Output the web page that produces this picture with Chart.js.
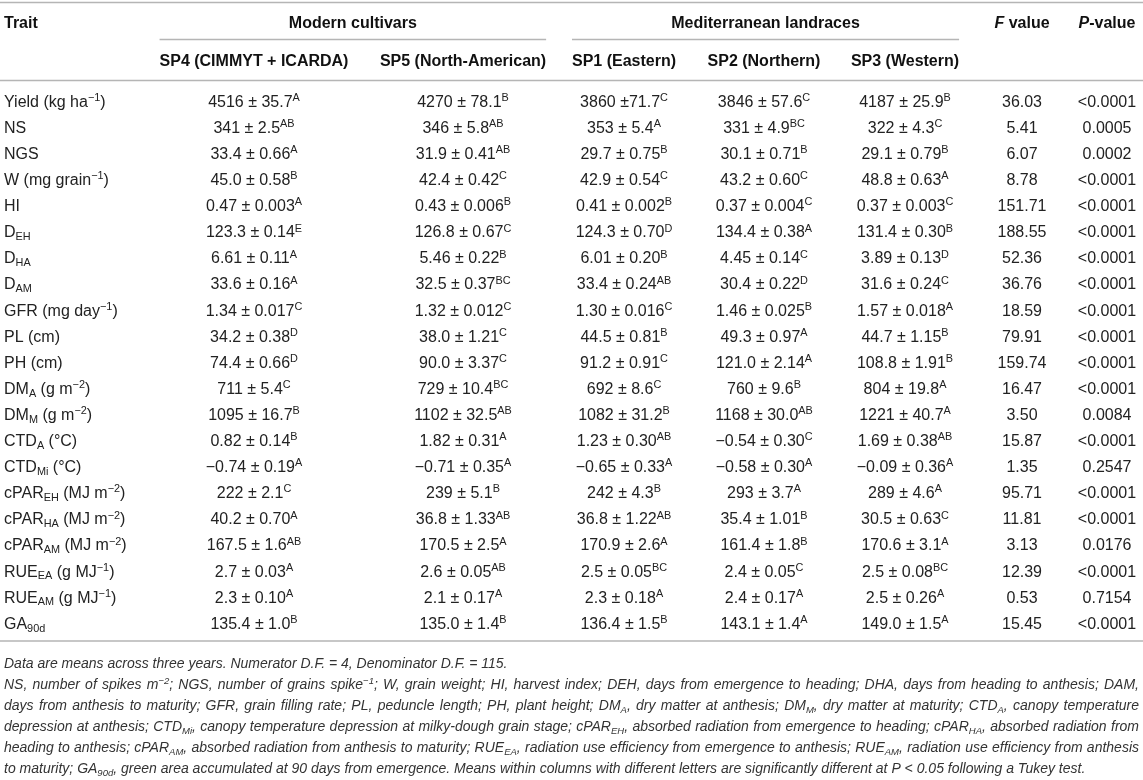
<!DOCTYPE html>
<html>
<head>
<meta charset="utf-8">
<title>Trait means by subpopulation</title>
<script src="https://cdn.jsdelivr.net/npm/chart.js@4.4.0/dist/chart.umd.min.js"></script>
<style>
    html, body { margin: 0; padding: 0; background: #fff; }
    #wrap { width: 1143px; height: 780px; position: relative; }
</style>
</head>
<body>
<div id="wrap"><canvas id="table-chart"></canvas></div>
<script>
/**
 * Table of trait means (± SE) per subpopulation, drawn on a Chart.js canvas.
 * Rows come from a category y axis, columns from a linear x axis.
 * Markup in strings: ^{..} superscript, _{..} subscript, *..* italic.
 */

// Row labels (traits)
const traits = [
    'Yield (kg ha^{\u22121})', 'NS', 'NGS', 'W (mg grain^{\u22121})', 'HI',
    'D_{EH}', 'D_{HA}', 'D_{AM}', 'GFR (mg day^{\u22121})', 'PL (cm)', 'PH (cm)',
    'DM_{A} (g m^{\u22122})', 'DM_{M} (g m^{\u22122})', 'CTD_{A} (\u00B0C)', 'CTD_{Mi} (\u00B0C)',
    'cPAR_{EH} (MJ m^{\u22122})', 'cPAR_{HA} (MJ m^{\u22122})', 'cPAR_{AM} (MJ m^{\u22122})',
    'RUE_{EA} (g MJ^{\u22121})', 'RUE_{AM} (g MJ^{\u22121})', 'GA_{90d}'
];

// Modern cultivars
const sp4 = [
    '4516 \u00B1 35.7^{A}', '341 \u00B1 2.5^{AB}', '33.4 \u00B1 0.66^{A}', '45.0 \u00B1 0.58^{B}',
    '0.47 \u00B1 0.003^{A}', '123.3 \u00B1 0.14^{E}', '6.61 \u00B1 0.11^{A}', '33.6 \u00B1 0.16^{A}',
    '1.34 \u00B1 0.017^{C}', '34.2 \u00B1 0.38^{D}', '74.4 \u00B1 0.66^{D}', '711 \u00B1 5.4^{C}',
    '1095 \u00B1 16.7^{B}', '0.82 \u00B1 0.14^{B}', '\u22120.74 \u00B1 0.19^{A}', '222 \u00B1 2.1^{C}',
    '40.2 \u00B1 0.70^{A}', '167.5 \u00B1 1.6^{AB}', '2.7 \u00B1 0.03^{A}', '2.3 \u00B1 0.10^{A}',
    '135.4 \u00B1 1.0^{B}'
];
const sp5 = [
    '4270 \u00B1 78.1^{B}', '346 \u00B1 5.8^{AB}', '31.9 \u00B1 0.41^{AB}', '42.4 \u00B1 0.42^{C}',
    '0.43 \u00B1 0.006^{B}', '126.8 \u00B1 0.67^{C}', '5.46 \u00B1 0.22^{B}', '32.5 \u00B1 0.37^{BC}',
    '1.32 \u00B1 0.012^{C}', '38.0 \u00B1 1.21^{C}', '90.0 \u00B1 3.37^{C}', '729 \u00B1 10.4^{BC}',
    '1102 \u00B1 32.5^{AB}', '1.82 \u00B1 0.31^{A}', '\u22120.71 \u00B1 0.35^{A}', '239 \u00B1 5.1^{B}',
    '36.8 \u00B1 1.33^{AB}', '170.5 \u00B1 2.5^{A}', '2.6 \u00B1 0.05^{AB}', '2.1 \u00B1 0.17^{A}',
    '135.0 \u00B1 1.4^{B}'
];

// Mediterranean landraces
const sp1 = [
    '3860 \u00B171.7^{C}', '353 \u00B1 5.4^{A}', '29.7 \u00B1 0.75^{B}', '42.9 \u00B1 0.54^{C}',
    '0.41 \u00B1 0.002^{B}', '124.3 \u00B1 0.70^{D}', '6.01 \u00B1 0.20^{B}', '33.4 \u00B1 0.24^{AB}',
    '1.30 \u00B1 0.016^{C}', '44.5 \u00B1 0.81^{B}', '91.2 \u00B1 0.91^{C}', '692 \u00B1 8.6^{C}',
    '1082 \u00B1 31.2^{B}', '1.23 \u00B1 0.30^{AB}', '\u22120.65 \u00B1 0.33^{A}', '242 \u00B1 4.3^{B}',
    '36.8 \u00B1 1.22^{AB}', '170.9 \u00B1 2.6^{A}', '2.5 \u00B1 0.05^{BC}', '2.3 \u00B1 0.18^{A}',
    '136.4 \u00B1 1.5^{B}'
];
const sp2 = [
    '3846 \u00B1 57.6^{C}', '331 \u00B1 4.9^{BC}', '30.1 \u00B1 0.71^{B}', '43.2 \u00B1 0.60^{C}',
    '0.37 \u00B1 0.004^{C}', '134.4 \u00B1 0.38^{A}', '4.45 \u00B1 0.14^{C}', '30.4 \u00B1 0.22^{D}',
    '1.46 \u00B1 0.025^{B}', '49.3 \u00B1 0.97^{A}', '121.0 \u00B1 2.14^{A}', '760 \u00B1 9.6^{B}',
    '1168 \u00B1 30.0^{AB}', '\u22120.54 \u00B1 0.30^{C}', '\u22120.58 \u00B1 0.30^{A}', '293 \u00B1 3.7^{A}',
    '35.4 \u00B1 1.01^{B}', '161.4 \u00B1 1.8^{B}', '2.4 \u00B1 0.05^{C}', '2.4 \u00B1 0.17^{A}',
    '143.1 \u00B1 1.4^{A}'
];
const sp3 = [
    '4187 \u00B1 25.9^{B}', '322 \u00B1 4.3^{C}', '29.1 \u00B1 0.79^{B}', '48.8 \u00B1 0.63^{A}',
    '0.37 \u00B1 0.003^{C}', '131.4 \u00B1 0.30^{B}', '3.89 \u00B1 0.13^{D}', '31.6 \u00B1 0.24^{C}',
    '1.57 \u00B1 0.018^{A}', '44.7 \u00B1 1.15^{B}', '108.8 \u00B1 1.91^{B}', '804 \u00B1 19.8^{A}',
    '1221 \u00B1 40.7^{A}', '1.69 \u00B1 0.38^{AB}', '\u22120.09 \u00B1 0.36^{A}', '289 \u00B1 4.6^{A}',
    '30.5 \u00B1 0.63^{C}', '170.6 \u00B1 3.1^{A}', '2.5 \u00B1 0.08^{BC}', '2.5 \u00B1 0.26^{A}',
    '149.0 \u00B1 1.5^{A}'
];

// ANOVA
const fValues = [36.03, 5.41, 6.07, 8.78, 151.71, 188.55, 52.36, 36.76, 18.59, 79.91, 159.74,
    16.47, 3.50, 15.87, 1.35, 95.71, 11.81, 3.13, 12.39, 0.53, 15.45];
const pValues = ['<0.0001', '0.0005', '0.0002', '<0.0001', '<0.0001', '<0.0001', '<0.0001',
    '<0.0001', '<0.0001', '<0.0001', '<0.0001', '<0.0001', '0.0084', '<0.0001', '0.2547',
    '<0.0001', '<0.0001', '0.0176', '<0.0001', '0.7154', '<0.0001'];

// Header labels
const columnHeaders = ['Trait', 'SP4 (CIMMYT + ICARDA)', 'SP5 (North-American)',
    'SP1 (Eastern)', 'SP2 (Northern)', 'SP3 (Western)', '*F* value', '*P*-value'];
const groupHeaders = ['Modern cultivars', 'Mediterranean landraces'];

const footnoteLines = [
    'Data are means across three years. Numerator D.F. = 4, Denominator D.F. = 115.',
    'NS, number of spikes m^{\u22122}; NGS, number of grains spike^{\u22121}; W, grain weight; HI, harvest index; DEH, days from emergence to heading; DHA, days from heading to anthesis; DAM,',
    'days from anthesis to maturity; GFR, grain filling rate; PL, peduncle length; PH, plant height; DM_{A}, dry matter at anthesis; DM_{M}, dry matter at maturity; CTD_{A}, canopy temperature',
    'depression at anthesis; CTD_{Mi}, canopy temperature depression at milky-dough grain stage; cPAR_{EH}, absorbed radiation from emergence to heading; cPAR_{HA}, absorbed radiation from',
    'heading to anthesis; cPAR_{AM}, absorbed radiation from anthesis to maturity; RUE_{EA}, radiation use efficiency from emergence to anthesis; RUE_{AM}, radiation use efficiency from anthesis',
    'to maturity; GA_{90d}, green area accumulated at 90 days from emergence. Means within columns with different letters are significantly different at P < 0.05 following a Tukey test.'
];

// Layout (x axis units = canvas px, 0..1143)
const TABLE_WIDTH = 1143;
const colX = [4, 254, 463, 624, 764, 905, 1022, 1107];
const FONT = '"Liberation Sans", Arial, Helvetica, sans-serif';
const BODY_SIZE = 16;
const NOTE_SIZE = 14;
const TEXT_COLOR = '#222';
const RULE_COLOR = '#b5b5b5';

function parseRich(str) {
    const parts = [];
    const re = /([\^_])\{([^}]*)\}|\*([^*]+)\*/g;
    let last = 0;
    let m;
    while ((m = re.exec(str)) !== null) {
        if (m.index > last) parts.push({ text: str.slice(last, m.index), mode: 'base' });
        if (m[3] !== undefined) parts.push({ text: m[3], mode: 'base', italic: true });
        else parts.push({ text: m[2], mode: m[1] === '^' ? 'sup' : 'sub' });
        last = re.lastIndex;
    }
    if (last < str.length) parts.push({ text: str.slice(last), mode: 'base' });
    return parts;
}

function partFont(part, o) {
    const size = part.mode === 'base' ? o.size : o.size * 0.68;
    const italic = (o.italic || part.italic) ? 'italic ' : '';
    return italic + (o.weight || 'normal') + ' ' + size + 'px ' + FONT;
}

function measureRich(ctx, str, o) {
    let w = 0;
    parseRich(str).forEach(p => {
        ctx.font = partFont(p, o);
        w += ctx.measureText(p.text).width;
    });
    return w;
}

/**
 * Draw a marked-up string centred vertically on y.
 * Returns the left and right pixel of the drawn text.
 */
function drawRich(ctx, str, x, y, o) {
    const parts = parseRich(str);
    const natural = measureRich(ctx, str, o);
    let extra = 0;
    if (o.justify) {
        let spaces = 0;
        parts.forEach(p => { if (p.mode === 'base') spaces += (p.text.match(/ /g) || []).length; });
        if (spaces) extra = (o.justify - natural) / spaces;
    }
    const width = o.justify || natural;
    let cx = o.align === 'left' ? x : o.align === 'right' ? x - width : x - width / 2;
    const left = cx;
    const base = y + o.size * 0.36;
    ctx.fillStyle = o.color || TEXT_COLOR;
    ctx.textBaseline = 'alphabetic';
    ctx.textAlign = 'left';
    parts.forEach(p => {
        ctx.font = partFont(p, o);
        let by = base;
        if (p.mode === 'sup') by = base - o.size * 0.36;
        if (p.mode === 'sub') by = base + o.size * 0.18;
        if (extra && p.mode === 'base') {
            const words = p.text.split(' ');
            const sp = ctx.measureText(' ').width;
            words.forEach((wd, j) => {
                ctx.fillText(wd, cx, by);
                cx += ctx.measureText(wd).width;
                if (j < words.length - 1) cx += sp + extra;
            });
        } else {
            ctx.fillText(p.text, cx, by);
            cx += ctx.measureText(p.text).width;
        }
    });
    return { left: left, right: cx };
}

function rule(ctx, x0, x1, y, width) {
    ctx.beginPath();
    ctx.strokeStyle = RULE_COLOR;
    ctx.lineWidth = width || 1.5;
    ctx.moveTo(x0, y);
    ctx.lineTo(x1, y);
    ctx.stroke();
}

const tableTextPlugin = {
    id: 'tableText',
    afterDatasetsDraw(chart) {
        const { ctx, chartArea } = chart;
        const top = chartArea.top;
        const bottom = chartArea.bottom;
        const groupY = top - 66;
        const headY = top - 28;
        ctx.save();

        // rules
        rule(ctx, 0, TABLE_WIDTH, top - 85.5);
        rule(ctx, 0, TABLE_WIDTH, top - 7.5);
        rule(ctx, 0, TABLE_WIDTH, bottom + 5);

        // column headers and cells
        const headBounds = [];
        chart.data.datasets.forEach((ds, di) => {
            const meta = chart.getDatasetMeta(di);
            const hx = meta.data.length ? meta.data[0].x : 0;
            const opts = { align: ds.align, size: BODY_SIZE, weight: 'bold', color: '#111' };
            const hy = ds.headerRow === 'group' ? groupY : headY;
            headBounds[di] = drawRich(ctx, ds.header, hx, hy, opts);
            meta.data.forEach((pt, i) => {
                drawRich(ctx, ds.cells[i], pt.x, pt.y, { align: ds.align, size: BODY_SIZE });
            });
        });

        // group headers spanning their sub-columns
        const groups = [[1, 2], [3, 5]];
        groups.forEach((g, gi) => {
            const x0 = headBounds[g[0]].left;
            const x1 = headBounds[g[1]].right;
            drawRich(ctx, groupHeaders[gi], (x0 + x1) / 2, groupY,
                { align: 'center', size: BODY_SIZE, weight: 'bold', color: '#111' });
            rule(ctx, x0, x1, top - 48.5);
        });

        // footnote, lines 2-5 justified to the table width
        let noteSize = NOTE_SIZE;
        const target = TABLE_WIDTH - 8;
        const widest = Math.max(...footnoteLines.map(l => measureRich(ctx, l, { size: noteSize, italic: true })));
        if (widest > target) noteSize = noteSize * target / widest;
        footnoteLines.forEach((line, i) => {
            const justify = (i > 0 && i < footnoteLines.length - 1) ? target : 0;
            drawRich(ctx, line, 4, bottom + 27 + i * 21,
                { align: 'left', size: noteSize, italic: true, justify: justify, color: '#333' });
        });
        ctx.restore();
    }
};

function columnDataset(header, cells, x, align, headerRow) {
    return {
        header: header,
        cells: cells,
        align: align,
        headerRow: headerRow,
        data: traits.map(t => ({ x: x, y: t })),
        pointRadius: 0,
        pointHoverRadius: 0,
        showLine: false
    };
}

function initTable() {
    const ctx = document.getElementById('table-chart');
    if (!ctx) return;
    const bodyColumns = [traits, sp4, sp5, sp1, sp2, sp3,
        fValues.map(v => v.toFixed(2)), pValues];
    const datasets = bodyColumns.map((cells, c) => columnDataset(
        columnHeaders[c], cells, colX[c], c === 0 ? 'left' : 'center',
        (c === 0 || c >= 6) ? 'group' : 'sub'));

    new Chart(ctx, {
        type: 'scatter',
        data: { datasets: datasets },
        options: {
            responsive: true,
            maintainAspectRatio: false,
            animation: false,
            events: [],
            layout: { padding: { top: 88, bottom: 144, left: 0, right: 0 } },
            plugins: { legend: { display: false }, tooltip: { enabled: false } },
            scales: {
                x: { type: 'linear', min: 0, max: TABLE_WIDTH, display: false },
                y: { type: 'category', labels: traits, offset: true, display: false }
            }
        },
        plugins: [tableTextPlugin]
    });
}

document.addEventListener('DOMContentLoaded', initTable);
</script>
</body>
</html>
